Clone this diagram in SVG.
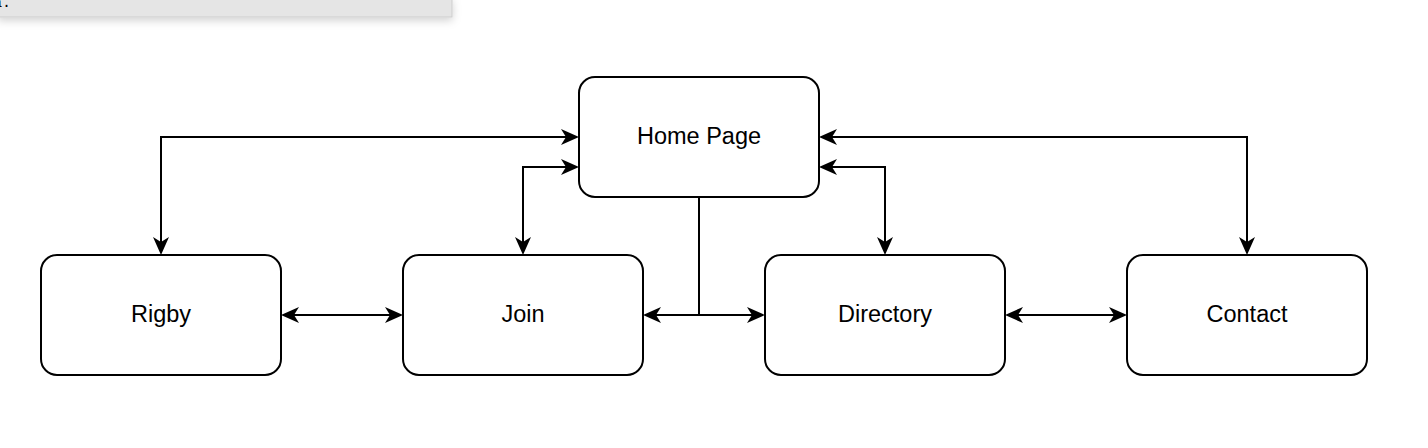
<svg xmlns="http://www.w3.org/2000/svg" width="1428" height="448" viewBox="0 0 1428 448">
  <style>
    .node rect { fill: #ffffff; stroke: #000000; stroke-width: 2; }
    .node text { font-family: "Liberation Sans", Arial, Helvetica, sans-serif; font-size: 23.5px; fill: #000000; text-anchor: middle; }
    .edge { fill: none; stroke: #000000; stroke-width: 2; }
    .both { marker-start: url(#arrow); marker-end: url(#arrow); }
    .end { marker-end: url(#arrow); }
  </style>
  <defs>
    <marker id="arrow" viewBox="0 0 18 16" refX="5" refY="8" markerWidth="18" markerHeight="16" markerUnits="userSpaceOnUse" orient="auto-start-reverse">
      <path d="M0,0 L18,8 L0,16 L5,8 Z" fill="#000000"/>
    </marker>
    <filter id="shadow" x="-10%" y="-50%" width="120%" height="300%">
      <feDropShadow dx="0" dy="3" stdDeviation="4" flood-color="#000000" flood-opacity="0.18"/>
    </filter>
  </defs>
  <rect width="1428" height="448" fill="#ffffff"/>

  <g id="tooltip">
    <rect x="-2" y="-2" width="454" height="19" fill="#e5e5e5" stroke="#cccccc" stroke-width="1" filter="url(#shadow)"/>
    <text x="-7" y="7" font-family="Liberation Mono, monospace" font-size="15" fill="#000000">a.</text>
  </g>

  <g id="connectors">
    <path class="edge both" d="M161,242 V137 H566"/>
    <path class="edge both" d="M523,242 V167 H566"/>
    <path class="edge both" d="M832,137 H1247 V242"/>
    <path class="edge both" d="M832,167 H885 V242"/>
    <path class="edge end" d="M699,197 V315 H656"/>
    <path class="edge end" d="M699,315 H752"/>
    <path class="edge both" d="M294,315 H390"/>
    <path class="edge both" d="M1018,315 H1114"/>
  </g>

  <g id="home" class="node">
    <rect x="579" y="77" width="240" height="120" rx="16" ry="16"/>
    <text x="699" y="143.5">Home Page</text>
  </g>
  <g id="rigby" class="node">
    <rect x="41" y="255" width="240" height="120" rx="16" ry="16"/>
    <text x="161" y="321.5">Rigby</text>
  </g>
  <g id="join" class="node">
    <rect x="403" y="255" width="240" height="120" rx="16" ry="16"/>
    <text x="523" y="321.5">Join</text>
  </g>
  <g id="directory" class="node">
    <rect x="765" y="255" width="240" height="120" rx="16" ry="16"/>
    <text x="885" y="321.5">Directory</text>
  </g>
  <g id="contact" class="node">
    <rect x="1127" y="255" width="240" height="120" rx="16" ry="16"/>
    <text x="1247" y="321.5">Contact</text>
  </g>
</svg>
